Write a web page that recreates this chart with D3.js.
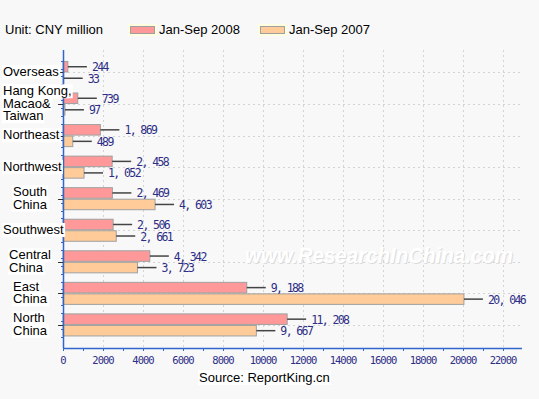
<!DOCTYPE html>
<html>
<head>
<meta charset="utf-8">
<script src="https://cdn.jsdelivr.net/npm/d3@7"></script>
<style>
  body { margin: 0; background: #f8f8f8; }
  svg { display: block; }
</style>
</head>
<body>
<div id="chart"></div>
<script>
// data
var categories = ["Overseas", "HK", "Northeast", "Northwest", "South China", "Southwest", "Central China", "East China", "North China"];
var categoryLines = [["Overseas"], ["Hang Kong,", "Macao&", "Taiwan"], ["Northeast"], ["Northwest"], ["South", "China"],
  ["Southwest"], ["Central", "China"], ["East", "China"], ["North", "China"]];
var series = ["Jan-Sep 2008", "Jan-Sep 2007"];
var values2008 = [244, 739, 1869, 2458, 2469, 2506, 4342, 9188, 11208];
var values2007 = [33, 97, 489, 1052, 4603, 2661, 3723, 20046, 9667];
var xTicks = [0, 2000, 4000, 6000, 8000, 10000, 12000, 14000, 16000, 18000, 20000, 22000];
var colors = ["#ff9999", "#ffcc99"];

var svgWidth = 539, svgHeight = 399;
var plot = { left: 63, right: 522, top: 50, bottom: 348 };

var svg = d3.select("#chart").append("svg")
  .attr("width", svgWidth)
  .attr("height", svgHeight);

svg.append("rect").attr("width", svgWidth).attr("height", svgHeight).attr("fill", "#f8f8f8");

// scales
var x = d3.scaleLinear().domain([0, 23000]).range([plot.left, plot.right + 1]);
var y = d3.scaleBand().domain(categories).range([56.7, 340.7]).paddingInner(0.27).paddingOuter(0.135);
var ySub = d3.scaleBand().domain(series).range([0, y.bandwidth()]);

// grid
svg.append("g").selectAll("line")
  .data(xTicks.slice(1)).enter().append("line")
  .attr("x1", d => x(d) + 0.5).attr("x2", d => x(d) + 0.5)
  .attr("y1", plot.top).attr("y2", plot.bottom)
  .attr("stroke", "#d4d4d4").attr("stroke-dasharray", "2,3");

svg.append("g").selectAll("line")
  .data(categories).enter().append("line")
  .attr("x1", plot.left).attr("x2", plot.right - 1)
  .attr("y1", d => Math.round(y(d) + y.bandwidth() / 2) + 0.5)
  .attr("y2", d => Math.round(y(d) + y.bandwidth() / 2) + 0.5)
  .attr("stroke", "#d4d4d4").attr("stroke-dasharray", "2,3");

// watermark
function watermark(dx, dy, fill) {
  svg.append("text")
    .attr("x", 379 + dx).attr("y", 263 + dy)
    .attr("text-anchor", "middle")
    .attr("font-family", "Liberation Sans, Arial, sans-serif")
    .attr("font-size", 22).attr("font-weight", "bold").attr("font-style", "italic")
    .attr("textLength", 268).attr("lengthAdjust", "spacingAndGlyphs")
    .attr("fill", fill)
    .text("www.ResearchInChina.com");
}
watermark(1, 1, "#dcdcdc");
watermark(0, 0, "#ffffff");

// bars
var rows = categories.map(function(c, i) {
  return { cat: c, vals: [{ s: series[0], v: values2008[i], k: 0 }, { s: series[1], v: values2007[i], k: 1 }] };
});

var fmt = function(v) { return d3.format(",")(v).replace(",", ", "); };

var groups = svg.append("g").selectAll("g")
  .data(rows).enter().append("g")
  .attr("transform", d => `translate(0, ${y(d.cat)})`);

groups.selectAll("rect")
  .data(d => d.vals).enter().append("rect")
  .attr("x", x(0))
  .attr("y", d => ySub(d.s) + 0.5)
  .attr("width", d => Math.max(x(d.v) - x(0), 0.5))
  .attr("height", ySub.bandwidth() - 1)
  .attr("fill", d => colors[d.k])
  .attr("stroke", "#a0a0a0").attr("stroke-width", 1);

// leader lines and value labels
groups.selectAll("line")
  .data(d => d.vals).enter().append("line")
  .attr("x1", d => x(d.v)).attr("x2", d => x(d.v) + 19)
  .attr("y1", d => ySub(d.s) + ySub.bandwidth() / 2)
  .attr("y2", d => ySub(d.s) + ySub.bandwidth() / 2)
  .attr("stroke", "#444").attr("stroke-width", 1.5);

groups.selectAll("text")
  .data(d => d.vals).enter().append("text")
  .attr("x", d => x(d.v) + 24)
  .attr("y", d => ySub(d.s) + ySub.bandwidth() / 2 + 4.5)
  .attr("font-family", "DejaVu Sans Mono, monospace")
  .attr("font-size", 11.5).attr("letter-spacing", -1.6)
  .attr("fill", "#2e2e86")
  .text(d => fmt(d.v));

// axes
var xAxis = svg.append("g");
xAxis.append("line")
  .attr("x1", plot.left).attr("x2", plot.right)
  .attr("y1", plot.bottom + 0.5).attr("y2", plot.bottom + 0.5)
  .attr("stroke", "#3366cc").attr("stroke-width", 1.5);
xAxis.selectAll("line.minor")
  .data(d3.range(0, 23000, 1000)).enter().append("line")
  .attr("class", "minor")
  .attr("x1", d => x(d) + 0.5).attr("x2", d => x(d) + 0.5)
  .attr("y1", plot.bottom).attr("y2", plot.bottom + 3)
  .attr("stroke", "#3366cc");
xAxis.selectAll("text")
  .data(xTicks).enter().append("text")
  .attr("x", d => x(d)).attr("y", plot.bottom + 16)
  .attr("text-anchor", "middle")
  .attr("font-family", "DejaVu Sans Mono, monospace")
  .attr("font-size", 10.5).attr("letter-spacing", -1)
  .attr("fill", "#2e2e86")
  .text(d => d);

var yAxis = svg.append("g");
yAxis.append("line")
  .attr("x1", plot.left + 0.5).attr("x2", plot.left + 0.5)
  .attr("y1", plot.top).attr("y2", plot.bottom)
  .attr("stroke", "#3366cc").attr("stroke-width", 1.5);
var step = y.step();
var minorTicks = [];
categories.forEach(function(c) {
  var mid = y(c) + y.bandwidth() / 2;
  [-0.375, -0.125, 0.125, 0.375].forEach(function(f) { minorTicks.push(mid + f * step); });
});
yAxis.selectAll("line.minor")
  .data(minorTicks).enter().append("line")
  .attr("class", "minor")
  .attr("x1", plot.left - 2).attr("x2", plot.left)
  .attr("y1", d => Math.round(d) + 0.5).attr("y2", d => Math.round(d) + 0.5)
  .attr("stroke", "#3366cc");
yAxis.selectAll("line.major")
  .data(categories).enter().append("line")
  .attr("class", "major")
  .attr("x1", plot.left - 5).attr("x2", plot.left)
  .attr("y1", d => Math.round(y(d) + y.bandwidth() / 2) + 0.5)
  .attr("y2", d => Math.round(y(d) + y.bandwidth() / 2) + 0.5)
  .attr("stroke", "#333");

// category labels with white boxes, each block centred near x = 30 and kept inside the picture
var lineH = 12.5;
var catLabels = svg.append("g").selectAll("g")
  .data(categories).enter().append("g");
catLabels.each(function(c, i) {
  var g = d3.select(this);
  var lines = categoryLines[i];
  var mid = y(c) + y.bandwidth() / 2;
  var top = mid - lines.length * lineH / 2;
  var t = g.append("text")
    .attr("font-family", "Liberation Sans, Arial, sans-serif")
    .attr("font-size", 13)
    .attr("fill", "#000");
  var spans = lines.map(function(l, j) {
    return t.append("tspan").attr("y", top + j * lineH + 10).text(l);
  });
  var w = d3.max(spans, s => s.node().getComputedTextLength());
  var left = Math.max(3, 30 - w / 2);
  spans.forEach(function(s) { s.attr("x", left); });
  spans.forEach(function(s) {
    var b = s.node().getBBox();
    g.insert("rect", "text")
      .attr("x", b.x - 1).attr("y", b.y + 1).attr("width", b.width + 2).attr("height", b.height - 1)
      .attr("fill", "#fff");
  });
});

// unit and legend
svg.append("text")
  .attr("x", 5).attr("y", 34)
  .attr("font-family", "Liberation Sans, Arial, sans-serif")
  .attr("font-size", 13).attr("fill", "#000")
  .text("Unit: CNY million");

var legend = svg.append("g").selectAll("g")
  .data(series).enter().append("g")
  .attr("transform", (d, i) => `translate(${128 + i * 130}, 0)`);
legend.append("rect")
  .attr("x", 0).attr("y", 24).attr("width", 29).attr("height", 12)
  .attr("fill", "#ffffe0");
legend.append("rect")
  .attr("x", 2.5).attr("y", 26.5).attr("width", 24).attr("height", 7)
  .attr("fill", (d, i) => colors[i]).attr("stroke", "#a0a0a0");
legend.append("text")
  .attr("x", 31).attr("y", 34)
  .attr("font-family", "Liberation Sans, Arial, sans-serif")
  .attr("font-size", 13).attr("fill", "#000")
  .text(d => d);

// source
var src = svg.append("g");
var srcText = src.append("text")
  .attr("x", 199).attr("y", 382)
  .attr("font-family", "Liberation Sans, Arial, sans-serif")
  .attr("font-size", 13).attr("fill", "#000")
  .text("Source: ReportKing.cn");
var sb = srcText.node().getBBox();
src.insert("rect", "text")
  .attr("x", sb.x - 1).attr("y", sb.y).attr("width", sb.width + 2).attr("height", sb.height)
  .attr("fill", "#fff");
</script>
</body>
</html>
